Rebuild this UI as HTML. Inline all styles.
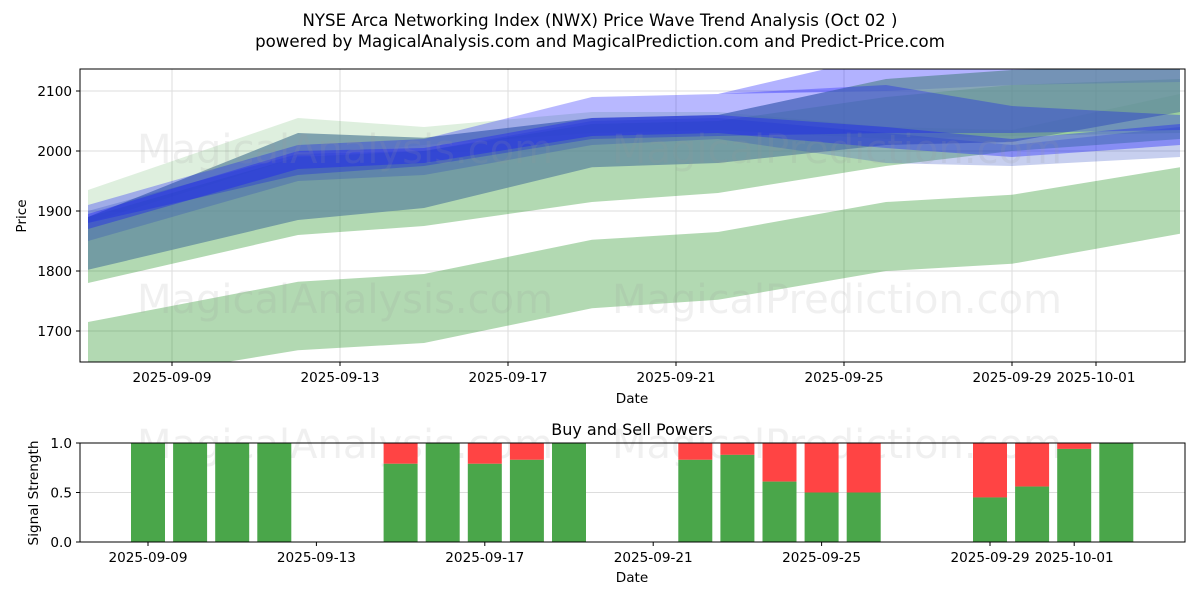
<!DOCTYPE html>
<html><head><meta charset="utf-8"><style>
body{margin:0;background:#fff;font-family:"Liberation Sans","DejaVu Sans",sans-serif}
svg text{font-family:"DejaVu Sans","Liberation Sans",sans-serif}
</style></head><body>
<svg id="c" width="1200" height="600" viewBox="0 0 1200 600" xmlns="http://www.w3.org/2000/svg">
<rect width="1200" height="600" fill="#fff"/>
<text x="600" y="26" text-anchor="middle" font-size="16.6">NYSE Arca Networking Index (NWX) Price Wave Trend Analysis (Oct 02 )</text>
<text x="600" y="47" text-anchor="middle" font-size="16.6">powered by MagicalAnalysis.com and MagicalPrediction.com and Predict-Price.com</text>
<g id="topg"></g>
<g id="botg"></g>
</svg>
<script>
const NS='http://www.w3.org/2000/svg';
// ---- data ----
const bandDays=[7,12,15,19,22,26,29,33];
const greenLowLo=[1610,1668,1680,1738,1752,1800,1812,1862];
const greenLowHi=[1715,1782,1795,1852,1865,1915,1927,1973];
const greenMidLo=[1780,1860,1875,1915,1930,1975,2000,2020];
const greenMidHi=[1890,1990,2000,2045,2050,2090,2110,2120];
const tealLo=[1802,1885,1905,1973,1980,2010,2015,2065];
const tealHi=[1890,2030,2022,2055,2060,2120,2135,2140];
const blueWideLo=[1880,1960,1975,2020,2025,2030,2030,2035];
const blueWideHi=[1910,2010,2020,2090,2095,2110,2075,2060];
const blueTopLo=[2060,2080,2085,2090,2095,2100,2110,2115];
const blueTopHi=[2060,2080,2085,2090,2095,2160,2170,2170];
const blueCoreLo=[1870,1970,1980,2025,2030,2005,1990,2010];
const blueCoreHi=[1895,2000,2005,2055,2060,2040,2020,2045];
const blueAltLo=[1850,1950,1960,2010,2020,1980,1975,1990];
const blueAltHi=[1900,1995,2000,2050,2055,2030,2010,2040];
const greenFaintLo=[1880,1990,2010,2030,2035,2020,2025,2030];
const greenFaintHi=[1935,2055,2040,2065,2065,2040,2035,2095];
const priceTicks=[1700,1800,1900,2000,2100];
const dateTickDays=[9,13,17,21,25,29,31];
const dateTickLabels=['2025-09-09','2025-09-13','2025-09-17','2025-09-21','2025-09-25','2025-09-29','2025-10-01'];
const barDays=[9,10,11,12,15,16,17,18,19,22,23,24,25,26,29,30,31,32];
const buyPower=[1,1,1,1,0.79,1,0.79,0.83,1,0.83,0.88,0.61,0.5,0.5,0.45,0.56,0.94,1];
const strengthTicks=[0,0.5,1];
const strengthLabels=['0.0','0.5','1.0'];
// ---- axes ----
const L=80,R=1185,T1=69,B1=362,T2=443,B2=542;
const FS=13.6;
const xTop=d=>172+(d-9)*42;
const yTop=p=>91+(2100-p)*0.6;
const xBot=d=>148+(d-9)*42.1;
const yBot=v=>B2-(B2-T2)*v;
function el(tag,attrs,parent){const e=document.createElementNS(NS,tag);for(const k in attrs)e.setAttribute(k,attrs[k]);parent.appendChild(e);return e;}
const topG=document.getElementById('topg'),botG=document.getElementById('botg');
const defs=el('defs',{},topG);
const cp=el('clipPath',{id:'cp'},defs);el('rect',{x:L,y:T1,width:R-L,height:B1-T1},cp);
priceTicks.forEach(p=>{const g=el('line',{x1:L,x2:R,y1:yTop(p),y2:yTop(p),stroke:'#ddd','stroke-width':1},topG);

});
dateTickDays.forEach(d=>{const g=el('line',{x1:xTop(d),x2:xTop(d),y1:T1,y2:B1,stroke:'#ddd','stroke-width':1},topG);

});
const bandsG=el('g',{'clip-path':'url(#cp)'},topG);
function band(lo,hi,color,op,name){
 let pts=bandDays.map((d,i)=>xTop(d)+','+yTop(hi[i]));
 pts=pts.concat(bandDays.map((d,i)=>xTop(d)+','+yTop(lo[i])).reverse());
 const p=el('polygon',{points:pts.join(' '),fill:color,'fill-opacity':op},bandsG);
 
 
}
band(greenLowLo,greenLowHi,'#008000',0.3,'green-low-band');
band(greenMidLo,greenMidHi,'#008000',0.3,'green-mid-band');
band(greenFaintLo,greenFaintHi,'#008000',0.13,'green-faint-band');
band(blueTopLo,blueTopHi,'#0000ff',0.3,'blue-top-band');
band(tealLo,tealHi,'#5f889e',0.75,'teal-band');
band(blueWideLo,blueWideHi,'#0000ff',0.28,'blue-wide-band');
band(blueAltLo,blueAltHi,'#2040c0',0.25,'blue-alt-band');
band(blueCoreLo,blueCoreHi,'#1010ff',0.35,'blue-core-band');
[['MagicalAnalysis.com',345,163],['MagicalPrediction.com',837,163],['MagicalAnalysis.com',345,313],['MagicalPrediction.com',837,313],['MagicalAnalysis.com',345,458],['MagicalPrediction.com',837,458]].forEach(w=>{
 const t=el('text',{x:w[1],y:w[2],'text-anchor':'middle','font-size':40,fill:'#999','fill-opacity':0.15},topG);t.textContent=w[0];
 
 });
const f1=el('rect',{x:L,y:T1,width:R-L,height:B1-T1,fill:'none',stroke:'#000','stroke-width':1},topG);


priceTicks.forEach(p=>{el('line',{x1:L-4,x2:L,y1:yTop(p),y2:yTop(p),stroke:'#000'},topG);
 const t=el('text',{x:L-8,y:yTop(p)+5,'text-anchor':'end','font-size':FS},topG);t.textContent=p;
 
 });
dateTickDays.forEach((d,i)=>{el('line',{x1:xTop(d),x2:xTop(d),y1:B1,y2:B1+4,stroke:'#000'},topG);
 const t=el('text',{x:xTop(d),y:B1+20,'text-anchor':'middle','font-size':FS},topG);t.textContent=dateTickLabels[i];
 
 });
let t=el('text',{x:632,y:403,'text-anchor':'middle','font-size':FS},topG);t.textContent='Date';


t=el('text',{x:26,y:216,'text-anchor':'middle','font-size':FS,transform:'rotate(-90 26 216)'},topG);t.textContent='Price';


t=el('text',{x:632,y:435,'text-anchor':'middle','font-size':16},botG);t.textContent='Buy and Sell Powers';


el('line',{x1:L,x2:R,y1:yBot(0.5),y2:yBot(0.5),stroke:'#ddd'},botG);
barDays.forEach((d,i)=>{const x=xBot(d)-17;
 const s=el('rect',{x:x,y:yBot(1),width:34,height:yBot(buyPower[i])-yBot(1),fill:'#ff4444'},botG);
 
 
 const b=el('rect',{x:x,y:yBot(buyPower[i]),width:34,height:yBot(0)-yBot(buyPower[i]),fill:'#4aa64a'},botG);
 
 });
const f2=el('rect',{x:L,y:T2,width:R-L,height:B2-T2,fill:'none',stroke:'#000'},botG);


strengthTicks.forEach((v,i)=>{el('line',{x1:L-4,x2:L,y1:yBot(v),y2:yBot(v),stroke:'#000'},botG);
 const s=el('text',{x:L-8,y:yBot(v)+5,'text-anchor':'end','font-size':FS},botG);s.textContent=strengthLabels[i];
 
 });
dateTickDays.forEach((d,i)=>{el('line',{x1:xBot(d),x2:xBot(d),y1:B2,y2:B2+4,stroke:'#000'},botG);
 const s=el('text',{x:xBot(d),y:B2+20,'text-anchor':'middle','font-size':FS},botG);s.textContent=dateTickLabels[i];
 
 });
t=el('text',{x:632,y:582,'text-anchor':'middle','font-size':FS},botG);t.textContent='Date';


t=el('text',{x:38,y:493,'text-anchor':'middle','font-size':FS,transform:'rotate(-90 38 493)'},botG);t.textContent='Signal Strength';


</script>
</body></html>
